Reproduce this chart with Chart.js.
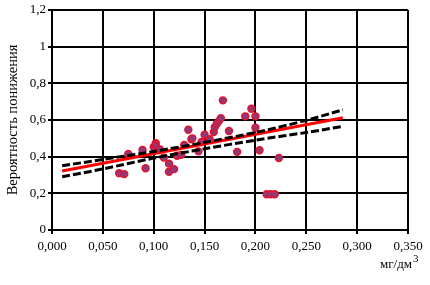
<!DOCTYPE html>
<html>
<head>
<meta charset="utf-8">
<script src="https://cdn.jsdelivr.net/npm/chart.js@4/dist/chart.umd.min.js"></script>
<style>
  html, body { margin: 0; padding: 0; background: #fff; }
  #wrap { width: 430px; height: 285px; }
</style>
</head>
<body>
<div id="wrap"><canvas id="c" width="430" height="285"></canvas></div>
<script>
// наблюдения: концентрация (мг/дм3) и вероятность понижения
const obsX = [0.066, 0.071, 0.075, 0.089, 0.092, 0.100, 0.102, 0.102, 0.106, 0.110,
              0.115, 0.115, 0.120, 0.123, 0.127, 0.130, 0.134, 0.137, 0.138, 0.144,
              0.147, 0.150, 0.155, 0.159, 0.160, 0.162, 0.164, 0.166, 0.168, 0.174,
              0.182, 0.190, 0.196, 0.200, 0.200, 0.204, 0.211, 0.215, 0.219, 0.223];
const obsY = [0.310, 0.305, 0.415, 0.437, 0.337, 0.453, 0.474, 0.462, 0.440, 0.395,
              0.362, 0.318, 0.332, 0.405, 0.410, 0.464, 0.547, 0.495, 0.500, 0.429,
              0.480, 0.520, 0.495, 0.534, 0.561, 0.580, 0.594, 0.610, 0.707, 0.540,
              0.426, 0.620, 0.661, 0.620, 0.558, 0.435, 0.195, 0.195, 0.195, 0.393];

// линия регрессии
const fitX = [0.010, 0.286];
const fitY = [0.322, 0.612];

// доверительные границы
const bandX = [0.010, 0.050, 0.100, 0.150, 0.200, 0.250, 0.286];
const upperY = [0.350, 0.385, 0.428, 0.478, 0.532, 0.598, 0.656];
const lowerY = [0.290, 0.333, 0.392, 0.443, 0.490, 0.532, 0.565];

const xTicks = [0, 0.05, 0.1, 0.15, 0.2, 0.25, 0.3, 0.35];
const yTicks = [0, 0.2, 0.4, 0.6, 0.8, 1, 1.2];

const toPts = (xs, ys) => xs.map((x, i) => ({ x: x, y: ys[i] }));
const SERIF = '"Liberation Serif", "DejaVu Serif", serif';
const FONT = { family: SERIF, size: 13 };

const fmtY = v => {
    const r = Math.round(v * 10) / 10;
    return (r === 0 || r === 1) ? String(r) : r.toFixed(1).replace('.', ',');
};
const fmtX = v => v.toFixed(3).replace('.', ',');

// подпись единиц под осью X
const unitsLabel = {
    id: 'unitsLabel',
    afterDraw(chart) {
        const ctx = chart.ctx;
        const a = chart.chartArea;
        ctx.save();
        ctx.fillStyle = '#000';
        ctx.font = '13px ' + SERIF;
        ctx.textBaseline = 'alphabetic';
        ctx.textAlign = 'left';
        const x0 = a.right - 28;
        const y0 = a.bottom + 38;
        ctx.fillText('мг/дм', x0, y0);
        const w = ctx.measureText('мг/дм').width;
        ctx.font = '11px ' + SERIF;
        ctx.fillText('3', x0 + w + 1, y0 - 6);
        ctx.restore();
    }
};

new Chart(document.getElementById('c'), {
    type: 'scatter',
    data: {
        datasets: [
            {
                label: 'upper',
                type: 'line',
                data: toPts(bandX, upperY),
                borderColor: '#000',
                borderWidth: 3,
                borderDash: [8, 3],
                pointRadius: 0,
                tension: 0.3,
                fill: false
            },
            {
                label: 'lower',
                type: 'line',
                data: toPts(bandX, lowerY),
                borderColor: '#000',
                borderWidth: 3,
                borderDash: [8, 3],
                pointRadius: 0,
                tension: 0.3,
                fill: false
            },
            {
                label: 'fit',
                type: 'line',
                data: toPts(fitX, fitY),
                borderColor: '#ff0000',
                borderWidth: 3,
                pointRadius: 0,
                fill: false
            },
            {
                label: 'obs',
                data: toPts(obsX, obsY),
                pointRadius: 3.4,
                pointBackgroundColor: '#8c3a7c',
                pointBorderColor: '#e0142e',
                pointBorderWidth: 1.6
            }
        ]
    },
    options: {
        responsive: false,
        animation: false,
        events: [],
        layout: { padding: { top: 10, right: 22, left: 4, bottom: 0 } },
        plugins: {
            legend: { display: false },
            tooltip: { enabled: false }
        },
        scales: {
            x: {
                type: 'linear',
                min: 0,
                max: 0.35,
                afterBuildTicks: axis => { axis.ticks = xTicks.map(v => ({ value: v })); },
                afterFit: axis => { axis.height = 55; },
                grid: { color: '#000', lineWidth: 2, tickLength: 4, drawTicks: true },
                border: { color: '#000', width: 2 },
                ticks: { color: '#000', font: FONT, padding: 5, maxRotation: 0, callback: v => fmtX(v) }
            },
            y: {
                min: 0,
                max: 1.2,
                afterBuildTicks: axis => { axis.ticks = yTicks.map(v => ({ value: v })); },
                afterFit: axis => { axis.width = 48; },
                grid: { color: '#000', lineWidth: 2, tickLength: 4, drawTicks: true },
                border: { color: '#000', width: 2 },
                title: { display: true, text: 'Вероятность понижения', color: '#000', font: { family: SERIF, size: 14.5 }, padding: 0 },
                ticks: { color: '#000', font: FONT, padding: 2, callback: v => fmtY(v) }
            }
        }
    },
    plugins: [unitsLabel]
});
</script>
</body>
</html>
